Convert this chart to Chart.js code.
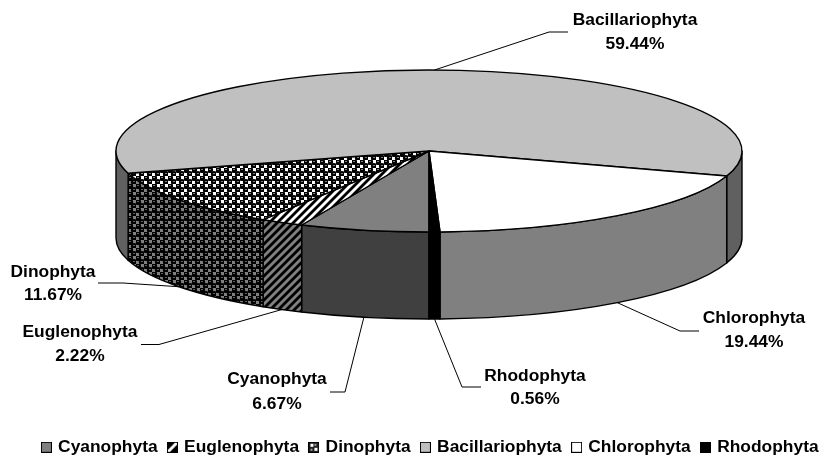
<!DOCTYPE html>
<html>
<head>
<meta charset="utf-8">
<title>Phyla</title>
<script src="https://cdn.jsdelivr.net/npm/chart.js@4"></script>
<style>
  html, body { margin: 0; padding: 0; background: #fff; overflow: hidden; }
  canvas { display: block; }
</style>
</head>
<body>
<canvas id="chart" width="824" height="456"></canvas>
<script>
'use strict';

var labels = ['Cyanophyta', 'Euglenophyta', 'Dinophyta', 'Bacillariophyta', 'Chlorophyta', 'Rhodophyta'];
var percents = [6.67, 2.22, 11.67, 59.44, 19.44, 0.56];

// pie geometry on the page (tilted disc)
var cx = 429, cy = 151, rx = 313, ry = 81, depth = 87;
var fontName = 'bold 17.4px "Liberation Sans", Arial, sans-serif';

// elbow, line end, text centre x, first text line y, second text line y
var callouts = [
  {elbow: [345, 392], end: [330, 392], tx: 277, y1: 379, y2: 404},
  {elbow: [159, 344.5], end: [141, 344.5], tx: 80, y1: 332, y2: 356},
  {elbow: [123, 283], end: [98, 283], tx: 53, y1: 272, y2: 295},
  {elbow: [549, 32], end: [568, 32], tx: 635, y1: 20, y2: 44},
  {elbow: [680, 331], end: [699, 331], tx: 754, y1: 318, y2: 342},
  {elbow: [462, 387], end: [481, 387], tx: 535, y1: 376, y2: 399}
];

function tile(size, paint) {
  var c = document.createElement('canvas');
  c.width = size;
  c.height = size;
  paint(c.getContext('2d'), size);
  return c;
}

function dots(bg, dot, spot) {
  return tile(8, function (g) {
    g.fillStyle = bg;
    g.fillRect(0, 0, 8, 8);
    [[2, 2], [6, 6]].forEach(function (p) {
      g.fillStyle = dot;
      g.beginPath();
      g.arc(p[0], p[1], 3.1, 0, Math.PI * 2);
      g.fill();
      g.fillStyle = spot;
      g.fillRect(p[0] - 1, p[1] - 1, 2, 1);
    });
  });
}

function stripes(bg, line) {
  return tile(8, function (g) {
    g.fillStyle = bg;
    g.fillRect(0, 0, 8, 8);
    g.strokeStyle = line;
    g.lineWidth = 2.8;
    [[-4, 4, 4, -4], [0, 8, 8, 0], [4, 12, 12, 4]].forEach(function (s) {
      g.beginPath();
      g.moveTo(s[0], s[1]);
      g.lineTo(s[2], s[3]);
      g.stroke();
    });
  });
}

var ctx = document.getElementById('chart').getContext('2d');

var topColors = [
  '#808080',
  ctx.createPattern(stripes('#000000', '#ffffff'), 'repeat'),
  ctx.createPattern(dots('#ffffff', '#000000', '#808080'), 'repeat'),
  '#c0c0c0',
  '#ffffff',
  '#000000'
];
var wallColors = [
  '#404040',
  ctx.createPattern(stripes('#000000', '#808080'), 'repeat'),
  ctx.createPattern(dots('#808080', '#000000', '#606060'), 'repeat'),
  '#606060',
  '#808080',
  '#000000'
];

function swatch(paint) {
  return tile(11, function (g) {
    paint(g);
    g.strokeStyle = '#000000';
    g.lineWidth = 1;
    g.strokeRect(0.5, 0.5, 10, 10);
  });
}

var swatches = [
  swatch(function (g) { g.fillStyle = '#808080'; g.fillRect(0, 0, 11, 11); }),
  swatch(function (g) {
    g.fillStyle = '#000000';
    g.fillRect(0, 0, 11, 11);
    g.strokeStyle = '#ffffff';
    g.lineWidth = 3;
    g.beginPath();
    g.moveTo(1, 10);
    g.lineTo(10, 1);
    g.stroke();
  }),
  swatch(function (g) {
    g.fillStyle = '#222222';
    g.fillRect(0, 0, 11, 11);
    g.fillStyle = '#ffffff';
    g.fillRect(2, 2, 3, 3);
    g.fillRect(6, 6, 3, 3);
    g.fillStyle = '#999999';
    g.fillRect(6, 2, 2, 2);
    g.fillRect(2, 7, 2, 2);
  }),
  swatch(function (g) { g.fillStyle = '#c0c0c0'; g.fillRect(0, 0, 11, 11); }),
  swatch(function (g) { g.fillStyle = '#ffffff'; g.fillRect(0, 0, 11, 11); }),
  swatch(function (g) { g.fillStyle = '#000000'; g.fillRect(0, 0, 11, 11); })
];

function drawWall(g, arc, i) {
  [0, Math.PI * 2].forEach(function (k) {
    var lo = Math.max(arc.startAngle, k);
    var hi = Math.min(arc.endAngle, k + Math.PI);
    if (hi <= lo) {
      return;
    }
    g.beginPath();
    g.ellipse(cx, cy, rx, ry, 0, lo, hi);
    g.ellipse(cx, cy + depth, rx, ry, 0, hi, lo, true);
    g.closePath();
    g.fillStyle = wallColors[i];
    g.fill();
    g.stroke();
  });
}

function drawTop(g, arc, i) {
  g.beginPath();
  g.moveTo(cx, cy);
  g.ellipse(cx, cy, rx, ry, 0, arc.startAngle, arc.endAngle);
  g.closePath();
  g.fillStyle = topColors[i];
  g.fill();
  g.stroke();
}

function drawCallout(g, arc, i) {
  var c = callouts[i];
  var mid = (arc.startAngle + arc.endAngle) / 2;
  var ax = cx + rx * Math.cos(mid);
  var ay = cy + ry * Math.sin(mid);
  if (Math.sin(mid) > 0) {
    ay += depth;
  }
  g.strokeStyle = '#000000';
  g.lineWidth = 1;
  g.beginPath();
  g.moveTo(ax, ay);
  g.lineTo(c.elbow[0], c.elbow[1]);
  g.lineTo(c.end[0], c.end[1]);
  g.stroke();

  g.fillStyle = '#000000';
  g.font = fontName;
  g.textAlign = 'center';
  g.textBaseline = 'middle';
  g.fillText(labels[i], c.tx, c.y1);
  g.fillText(percents[i].toFixed(2) + '%', c.tx, c.y2);
}

var tiltedPie = {
  id: 'tiltedPie',
  afterLayout: function (chart) {
    // legend sits lower and further right than its defaults would put it
    chart.legend.top += 10;
    chart.legend.bottom += 10;
    chart.legend.left += 19;
    chart.legend.right += 19;
  },
  beforeDatasetsDraw: function (chart) {
    var g = chart.ctx;
    var arcs = chart.getDatasetMeta(0).data;
    g.save();
    g.strokeStyle = '#000000';
    g.lineWidth = 1.4;
    g.lineJoin = 'round';
    arcs.forEach(function (arc, i) { drawWall(g, arc, i); });
    arcs.forEach(function (arc, i) { drawTop(g, arc, i); });
    arcs.forEach(function (arc, i) { drawCallout(g, arc, i); });
    g.restore();
    return false;
  }
};

var chart = new Chart(ctx, {
  type: 'pie',
  data: {
    labels: labels,
    datasets: [{
      data: percents,
      backgroundColor: topColors,
      borderWidth: 0
    }]
  },
  options: {
    responsive: false,
    animation: false,
    rotation: 180,
    plugins: {
      tooltip: {enabled: false},
      legend: {
        display: true,
        position: 'bottom',
        labels: {
          color: '#000000',
          font: {family: '"Liberation Sans", Arial, sans-serif', size: 17.4, weight: 'bold'},
          usePointStyle: true,
          pointStyleWidth: 6,
          padding: 11.8,
          generateLabels: function () {
            return labels.map(function (name, i) {
              return {text: name, pointStyle: swatches[i], index: i, hidden: false, lineWidth: 0};
            });
          }
        }
      }
    }
  },
  plugins: [tiltedPie]
});
</script>
</body>
</html>
